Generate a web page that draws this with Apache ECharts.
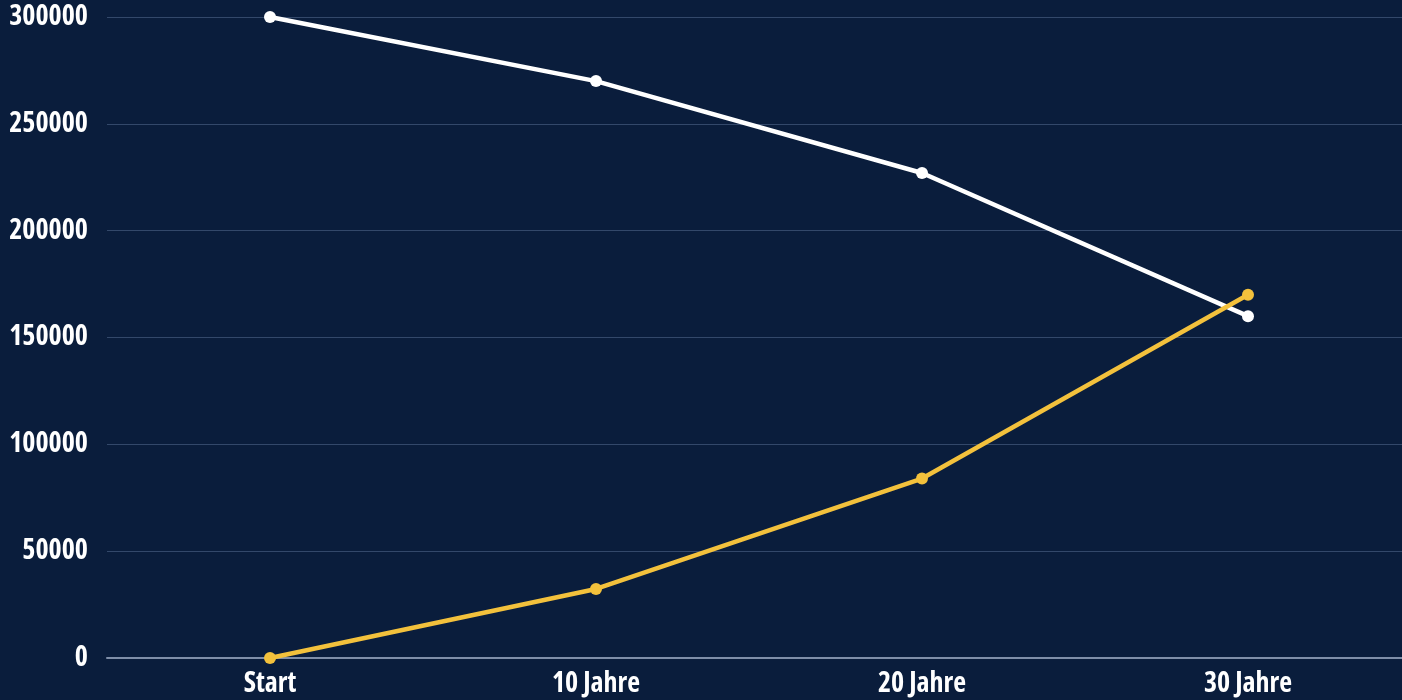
<!DOCTYPE html>
<html>
<head>
<meta charset="utf-8">
<style>
html,body{margin:0;padding:0;background:#0a1d3c;}
#chart{width:1402px;height:700px;}
</style>
<script src="https://cdn.jsdelivr.net/npm/echarts@6/dist/echarts.min.js"></script>
</head>
<body>
<div id="chart"></div>
<script>
var categories = ['Start', '10 Jahre', '20 Jahre', '30 Jahre'];
var yTicks = ['0', '50000', '100000', '150000', '200000', '250000', '300000'];
var whiteSeries = [300000, 270000, 227000, 160000];
var yellowSeries = [0, 32300, 84000, 170000];

var font = '"Open Sans", sans-serif';
var chart = echarts.init(document.getElementById('chart'));
chart.setOption({
  backgroundColor: '#0a1d3c',
  animation: false,
  grid: {left: 107, right: -9, top: 17, bottom: 42, containLabel: false, outerBoundsMode: 'none'},
  xAxis: {
    type: 'category',
    data: categories,
    boundaryGap: true,
    axisLine: {show: true, lineStyle: {color: '#7f8ea8', width: 2}},
    axisTick: {show: false},
    axisLabel: {color: '#ffffff', fontFamily: font, fontStyle: 'condensed', fontWeight: 'bold', fontSize: 28, margin: 12}
  },
  yAxis: {
    type: 'value',
    min: 0, max: 300000, interval: 50000,
    axisLine: {show: false},
    axisTick: {show: false},
    splitLine: {lineStyle: {color: '#33486a', width: 1}},
    axisLabel: {
      color: '#ffffff', fontFamily: font, fontStyle: 'condensed', fontWeight: 'bold', fontSize: 28, margin: 19,
      formatter: function (v) { return yTicks[Math.round(v / 50000)]; }
    }
  },
  series: [
    {
      type: 'line', data: whiteSeries,
      symbol: 'circle', symbolSize: 12,
      lineStyle: {color: '#ffffff', width: 4.5},
      itemStyle: {color: '#ffffff'}
    },
    {
      type: 'line', data: yellowSeries,
      symbol: 'circle', symbolSize: 12,
      lineStyle: {color: '#f3c13c', width: 4.5},
      itemStyle: {color: '#f3c13c'}
    }
  ]
});
</script>
</body>
</html>
